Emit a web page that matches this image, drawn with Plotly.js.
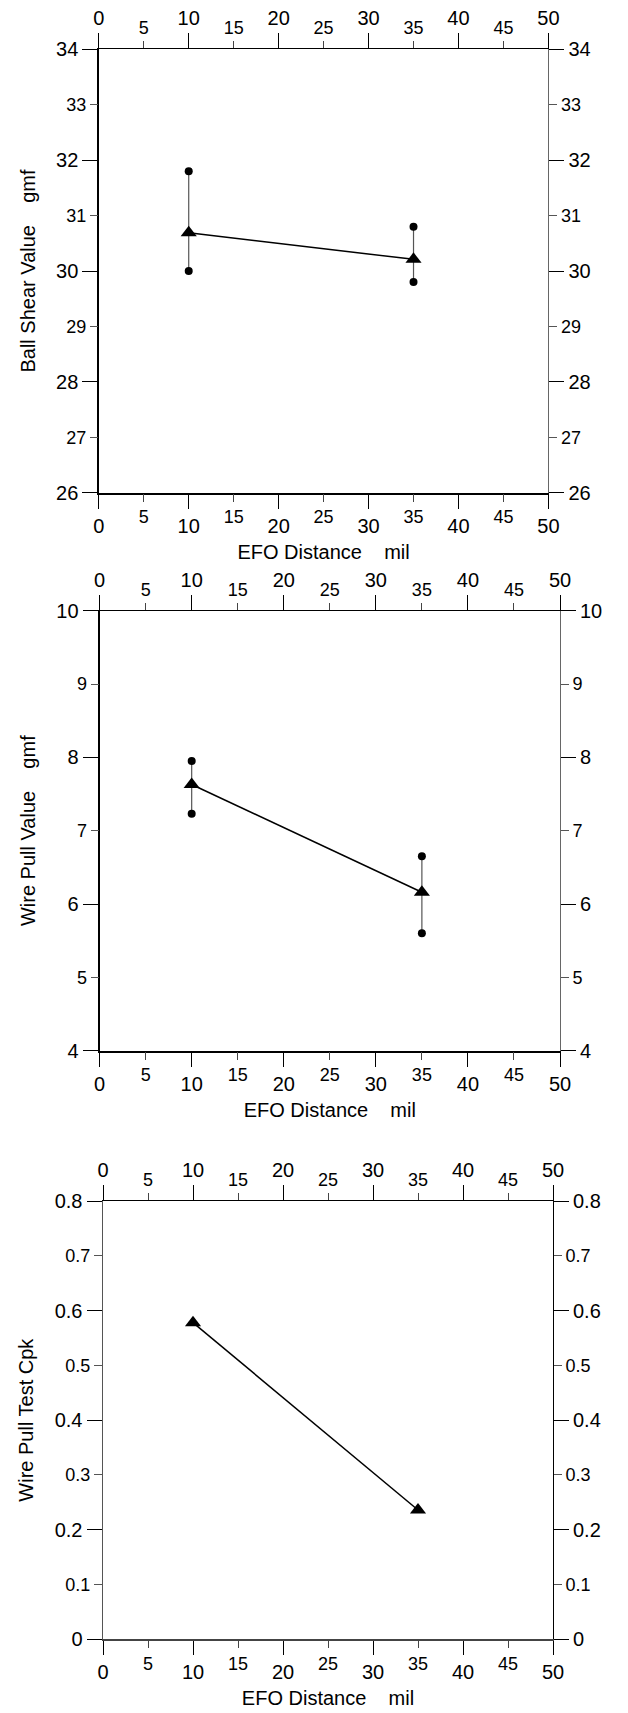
<!DOCTYPE html>
<html>
<head>
<meta charset="utf-8">
<script src="https://cdn.plot.ly/plotly-3.0.1.min.js"></script>
<style>html,body{margin:0;padding:0;background:#fff;}#chart{width:628px;height:1713px;}</style>
</head>
<body>
<div id="chart"></div>
<script>
// ---- data ----
const efo = [10, 35];
const shearMean = [30.69, 30.21];
const shearMax = [31.8, 30.8];
const shearMin = [30.0, 29.8];
const pullMean = [7.63, 6.16];
const pullMax = [7.95, 6.65];
const pullMin = [7.23, 5.6];
const cpk = [0.578, 0.236];

const xMajorTicks = [0, 10, 20, 30, 40, 50];
const xMinorTicks = [5, 15, 25, 35, 45];
const shearMajorTicks = [26, 28, 30, 32, 34];
const shearMinorTicks = [27, 29, 31, 33];
const pullMajorTicks = [4, 6, 8, 10];
const pullMinorTicks = [5, 7, 9];
const cpkMajorTicks = [0, 0.2, 0.4, 0.6, 0.8];
const cpkMinorTicks = [0.1, 0.3, 0.5, 0.7];

const xTitle = 'EFO Distance\u00A0\u00A0\u00A0\u00A0mil';
const FONT = 'Arial, "Liberation Sans", sans-serif';
const W = 628, H = 1713;
const FMAJ = 20, FMIN = 18, FYMAJ = 20, FYMIN = 18, FTITLE = 20;

const charts = [
  {px: [98.8, 548.4], py: [49.3, 492.7], yr: [26, 34], yMaj: shearMajorTicks, yMin: shearMinorTicks,
   ytitle: 'Ball Shear Value\u00A0\u00A0\u00A0\u00A0gmf', mean: shearMean, hi: shearMax, lo: shearMin,
   bw: 2, bc: '#000', lc: '#000', lw: 1.5, rc: '#666'},
  {px: [99.6, 560], py: [610.7, 1050.7], yr: [4, 10], yMaj: pullMajorTicks, yMin: pullMinorTicks,
   ytitle: 'Wire Pull Value\u00A0\u00A0\u00A0\u00A0gmf', mean: pullMean, hi: pullMax, lo: pullMin,
   bw: 2, bc: '#000', lc: '#000', lw: 2, rc: '#666'},
  {px: [103, 553], py: [1201, 1639.3], yr: [0, 0.8], yMaj: cpkMajorTicks, yMin: cpkMinorTicks,
   ytitle: 'Wire Pull Test Cpk', mean: cpk, hi: null, lo: null,
   bw: 1.5, bc: '#444', lc: '#555', lw: 1.5, rc: '#000'}
];

const layout = {
  width: W, height: H,
  margin: {l: 0, r: 0, t: 0, b: 0},
  showlegend: false,
  paper_bgcolor: '#ffffff',
  plot_bgcolor: 'rgba(0,0,0,0)',
  font: {family: FONT, color: '#000'}
};
const data = [];

const nm = (l, i) => (i === 1 ? l + 'axis' : l + 'axis' + i);
const rf = (l, i) => (i === 1 ? l : l + i);

charts.forEach((c, ci) => {
  const b = ci * 4 + 1;
  const xdom = [c.px[0] / W, c.px[1] / W];
  const ydom = [1 - c.py[1] / H, 1 - c.py[0] / H];
  const common = {showgrid: false, zeroline: false, tickmode: 'array', ticks: 'outside', tickwidth: 1, fixedrange: true};

  // x axes
  layout[nm('x', b)] = Object.assign({}, common, {
    domain: xdom, anchor: rf('y', b), range: [0, 50], side: 'bottom',
    tickvals: xMajorTicks, ticklen: 14, tickcolor: '#000',
    tickfont: {size: FMAJ, family: FONT}, ticklabelstandoff: 0,
    showline: true, linecolor: c.bc, linewidth: c.bw,
    title: {text: xTitle, font: {size: FTITLE, family: FONT}, standoff: 9}
  });
  layout[nm('x', b + 1)] = Object.assign({}, common, {
    overlaying: rf('x', b), anchor: rf('y', b), range: [0, 50], side: 'bottom',
    tickvals: xMinorTicks, ticklen: 8, tickcolor: '#444',
    tickfont: {size: FMIN, family: FONT}, ticklabelstandoff: 0, showline: false
  });
  layout[nm('x', b + 2)] = Object.assign({}, common, {
    overlaying: rf('x', b), anchor: rf('y', b), range: [0, 50], side: 'top',
    tickvals: xMajorTicks, ticklen: 15, tickcolor: '#000',
    tickfont: {size: FMAJ, family: FONT}, ticklabelstandoff: 0,
    showline: true, linecolor: '#000', linewidth: 1
  });
  layout[nm('x', b + 3)] = Object.assign({}, common, {
    overlaying: rf('x', b), anchor: rf('y', b), range: [0, 50], side: 'top',
    tickvals: xMinorTicks, ticklen: 7, tickcolor: '#444',
    tickfont: {size: FMIN, family: FONT}, ticklabelstandoff: 0, showline: false
  });

  // y axes
  layout[nm('y', b)] = Object.assign({}, common, {
    domain: ydom, anchor: rf('x', b), range: c.yr, side: 'left',
    tickvals: c.yMaj, ticklen: 15, tickcolor: '#000',
    tickfont: {size: FYMAJ, family: FONT}, ticklabelstandoff: 0,
    showline: true, linecolor: c.lc, linewidth: c.lw,
    title: {text: c.ytitle, font: {size: FTITLE, family: FONT}, standoff: 15}
  });
  layout[nm('y', b + 1)] = Object.assign({}, common, {
    overlaying: rf('y', b), anchor: rf('x', b), range: c.yr, side: 'left',
    tickvals: c.yMin, ticklen: 8, tickcolor: '#555',
    tickfont: {size: FYMIN, family: FONT}, ticklabelstandoff: 0, showline: false
  });
  layout[nm('y', b + 2)] = Object.assign({}, common, {
    overlaying: rf('y', b), anchor: rf('x', b), range: c.yr, side: 'right',
    tickvals: c.yMaj, ticklen: 15, tickcolor: '#000',
    tickfont: {size: FYMAJ, family: FONT}, ticklabelstandoff: 0,
    showline: true, linecolor: c.rc, linewidth: 1
  });
  layout[nm('y', b + 3)] = Object.assign({}, common, {
    overlaying: rf('y', b), anchor: rf('x', b), range: c.yr, side: 'right',
    tickvals: c.yMin, ticklen: 8, tickcolor: '#555',
    tickfont: {size: FYMIN, family: FONT}, ticklabelstandoff: 0, showline: false
  });

  const xr = rf('x', b), yr = rf('y', b);

  // invisible carrier traces so that every overlaid axis is drawn
  const pairs = [[rf('x', b + 1), yr], [rf('x', b + 2), yr], [rf('x', b + 3), yr],
                 [xr, rf('y', b + 1)], [xr, rf('y', b + 2)], [xr, rf('y', b + 3)]];
  pairs.forEach(p => data.push({type: 'scatter', mode: 'markers', x: [efo[0]], y: [c.mean[0]],
    xaxis: p[0], yaxis: p[1], marker: {opacity: 0, size: 1}, hoverinfo: 'skip'}));

  if (c.hi) {
    const lx = [], ly = [], dx = [], dy = [];
    efo.forEach((x, i) => {
      lx.push(x, x, null); ly.push(c.lo[i], c.hi[i], null);
      dx.push(x, x); dy.push(c.lo[i], c.hi[i]);
    });
    data.push({type: 'scatter', mode: 'lines', x: lx, y: ly, xaxis: xr, yaxis: yr,
      line: {color: '#555', width: 1.2}, hoverinfo: 'skip'});
    data.push({type: 'scatter', mode: 'markers', x: dx, y: dy, xaxis: xr, yaxis: yr,
      marker: {symbol: 'circle', size: 8, color: '#000'}});
  }
  data.push({type: 'scatter', mode: 'lines+markers', x: efo, y: c.mean, xaxis: xr, yaxis: yr,
    line: {color: '#000', width: 1.5},
    marker: {symbol: 'triangle-up', size: 14, color: '#000'}});
});

Plotly.newPlot('chart', data, layout, {staticPlot: true, displayModeBar: false});
</script>
</body>
</html>
